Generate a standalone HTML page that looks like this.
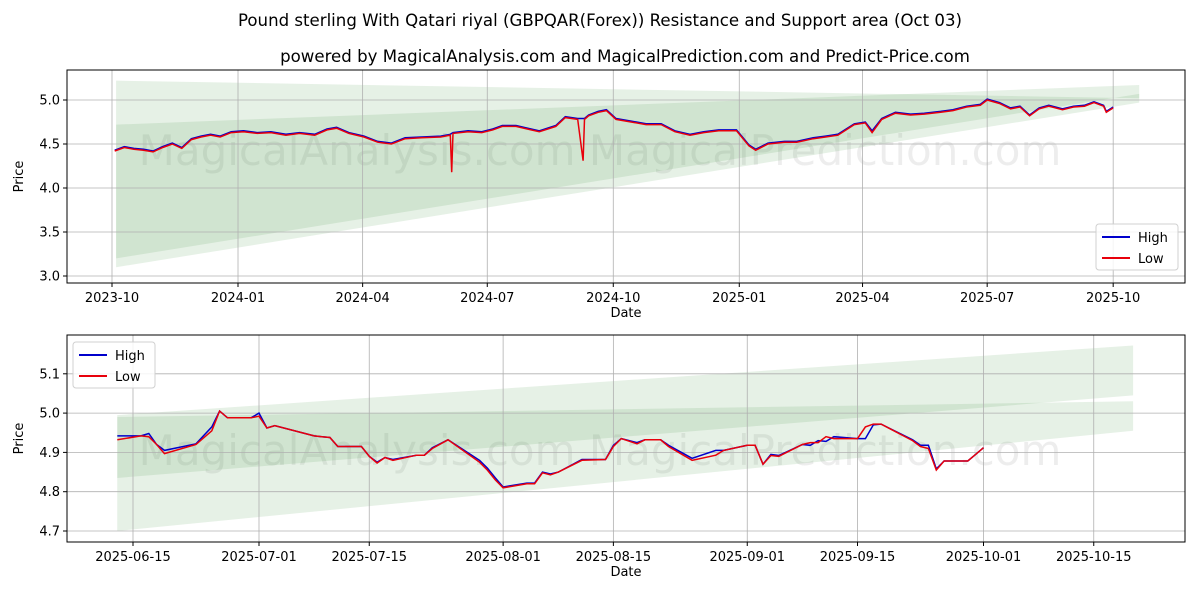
<!DOCTYPE html>
<html><head><meta charset="utf-8">
<style>
body{margin:0;background:#fff;}
svg{display:block;font-family:"DejaVu Sans","Liberation Sans",sans-serif;}
</style></head>
<body>
<svg id="c" width="1200" height="600" viewBox="0 0 1200 600">
<rect width="1200" height="600" fill="#fff"/>
<text x="600" y="26" text-anchor="middle" font-size="16.6">Pound sterling With Qatari riyal (GBPQAR(Forex)) Resistance and Support area (Oct 03)</text>
<text x="625" y="62" text-anchor="middle" font-size="16.6">powered by MagicalAnalysis.com and MagicalPrediction.com and Predict-Price.com</text>
<g id="top"></g>
<g id="bot"></g>
</svg>
<script>
// ---- top chart data ----
const topDates = ["2023-10-03","2023-10-10","2023-10-17","2023-10-24","2023-10-31","2023-11-07","2023-11-14","2023-11-21","2023-11-28","2023-12-05","2023-12-12","2023-12-19","2023-12-27","2024-01-05","2024-01-15","2024-01-25","2024-02-05","2024-02-15","2024-02-26","2024-03-06","2024-03-13","2024-03-22","2024-04-02","2024-04-12","2024-04-22","2024-05-02","2024-05-14","2024-05-28","2024-06-04","2024-06-05","2024-06-06","2024-06-17","2024-06-27","2024-07-05","2024-07-12","2024-07-22","2024-08-02","2024-08-08","2024-08-20","2024-08-27","2024-09-05","2024-09-09","2024-09-10","2024-09-13","2024-09-20","2024-09-26","2024-10-03","2024-10-14","2024-10-25","2024-11-05","2024-11-15","2024-11-26","2024-12-06","2024-12-17","2024-12-30","2025-01-08","2025-01-13","2025-01-22","2025-02-03","2025-02-12","2025-02-24","2025-03-05","2025-03-14","2025-03-26","2025-04-03","2025-04-08","2025-04-15","2025-04-25","2025-05-06","2025-05-16","2025-05-28","2025-06-06","2025-06-16","2025-06-26","2025-07-01","2025-07-10","2025-07-18","2025-07-25","2025-08-01","2025-08-08","2025-08-15","2025-08-25","2025-09-02","2025-09-10","2025-09-17","2025-09-24","2025-09-26","2025-10-01"];
const topLow = [4.42,4.46,4.44,4.43,4.41,4.46,4.50,4.45,4.55,4.58,4.60,4.58,4.63,4.64,4.62,4.63,4.60,4.62,4.60,4.66,4.68,4.62,4.58,4.52,4.50,4.56,4.57,4.58,4.60,4.18,4.62,4.64,4.63,4.66,4.70,4.70,4.66,4.64,4.70,4.80,4.78,4.31,4.78,4.82,4.86,4.88,4.78,4.75,4.72,4.72,4.64,4.60,4.63,4.65,4.65,4.48,4.43,4.50,4.52,4.52,4.56,4.58,4.60,4.72,4.74,4.63,4.78,4.85,4.83,4.84,4.86,4.88,4.92,4.94,5.00,4.96,4.90,4.92,4.82,4.90,4.93,4.89,4.92,4.93,4.97,4.93,4.86,4.91];
const topHigh = [4.43,4.47,4.45,4.44,4.42,4.47,4.51,4.46,4.56,4.59,4.61,4.59,4.64,4.65,4.63,4.64,4.61,4.63,4.61,4.67,4.69,4.63,4.59,4.53,4.51,4.57,4.58,4.59,4.61,4.62,4.63,4.65,4.64,4.67,4.71,4.71,4.67,4.65,4.71,4.81,4.79,4.79,4.79,4.83,4.87,4.89,4.79,4.76,4.73,4.73,4.65,4.61,4.64,4.66,4.66,4.49,4.44,4.51,4.53,4.53,4.57,4.59,4.61,4.73,4.75,4.65,4.79,4.86,4.84,4.85,4.87,4.89,4.93,4.95,5.01,4.97,4.91,4.93,4.83,4.91,4.94,4.90,4.93,4.94,4.98,4.94,4.87,4.92];
const topYTicks = [3.0,3.5,4.0,4.5,5.0];
const topXTicks = ["2023-10-01","2024-01-01","2024-04-01","2024-07-01","2024-10-01","2025-01-01","2025-04-01","2025-07-01","2025-10-01"];
const topXLabels = ["2023-10","2024-01","2024-04","2024-07","2024-10","2025-01","2025-04","2025-07","2025-10"];
// bands: [startDate, endDate, startTop, startBottom, endTop, endBottom]
const topBand1 = ["2023-10-04","2025-10-20",5.22,3.20,5.02,5.07];
const topBand2 = ["2023-10-04","2025-10-20",4.72,3.10,5.17,4.97];

// ---- bottom chart data ----
const botDates = ["2025-06-13","2025-06-16","2025-06-17","2025-06-18","2025-06-19","2025-06-23","2025-06-25","2025-06-26","2025-06-27","2025-06-30","2025-07-01","2025-07-02","2025-07-03","2025-07-08","2025-07-09","2025-07-10","2025-07-11","2025-07-14","2025-07-15","2025-07-16","2025-07-17","2025-07-18","2025-07-21","2025-07-22","2025-07-23","2025-07-25","2025-07-29","2025-07-30","2025-07-31","2025-08-01","2025-08-04","2025-08-05","2025-08-06","2025-08-07","2025-08-08","2025-08-11","2025-08-14","2025-08-15","2025-08-16","2025-08-18","2025-08-19","2025-08-21","2025-08-22","2025-08-25","2025-08-28","2025-08-29","2025-09-01","2025-09-02","2025-09-03","2025-09-04","2025-09-05","2025-09-08","2025-09-09","2025-09-10","2025-09-11","2025-09-12","2025-09-15","2025-09-16","2025-09-17","2025-09-18","2025-09-22","2025-09-23","2025-09-24","2025-09-25","2025-09-26","2025-09-27","2025-09-29","2025-09-30","2025-10-01"];
const botLow = [4.932,4.942,4.94,4.92,4.897,4.92,4.955,5.005,4.988,4.988,4.992,4.962,4.968,4.942,4.94,4.938,4.915,4.915,4.89,4.873,4.887,4.88,4.893,4.893,4.91,4.932,4.875,4.855,4.83,4.81,4.82,4.82,4.848,4.843,4.85,4.88,4.882,4.915,4.935,4.922,4.932,4.932,4.915,4.88,4.893,4.905,4.918,4.918,4.87,4.892,4.89,4.92,4.925,4.925,4.94,4.935,4.935,4.965,4.972,4.972,4.93,4.915,4.91,4.855,4.878,4.878,4.878,4.895,4.912];
const botHigh = [4.942,4.942,4.948,4.92,4.905,4.922,4.965,5.005,4.988,4.988,5.0,4.962,4.968,4.942,4.94,4.938,4.915,4.915,4.89,4.875,4.887,4.882,4.893,4.893,4.912,4.932,4.88,4.86,4.835,4.812,4.822,4.822,4.85,4.845,4.85,4.882,4.882,4.918,4.935,4.925,4.932,4.932,4.918,4.885,4.905,4.905,4.918,4.918,4.87,4.895,4.892,4.92,4.918,4.93,4.928,4.94,4.935,4.935,4.97,4.972,4.932,4.918,4.918,4.858,4.878,4.878,4.878,4.895,4.912];
const botYTicks = [4.7,4.8,4.9,5.0,5.1];
const botXTicks = ["2025-06-15","2025-07-01","2025-07-15","2025-08-01","2025-08-15","2025-09-01","2025-09-15","2025-10-01","2025-10-15"];
const botBand1 = ["2025-06-13","2025-10-20",4.995,4.835,5.172,5.045];
const botBand2 = ["2025-06-13","2025-10-20",4.99,4.70,5.03,4.955];

const NS="http://www.w3.org/2000/svg";
function mk(tag,attrs,parent){const e=document.createElementNS(NS,tag);for(const k in attrs)e.setAttribute(k,attrs[k]);parent.appendChild(e);return e;}
function day(s){return Date.parse(s+"T00:00:00Z")/86400000;}

function drawChart(g,cfg){
  const {x0,x1,y0,y1,dmin,dmax,vmin,vmax}=cfg;
  const X=d=>x0+(day(d)-dmin)/(dmax-dmin)*(x1-x0);
  const Y=v=>y1-(v-vmin)/(vmax-vmin)*(y1-y0);
  const wm=mk("text",{x:600,y:cfg.wmY,"text-anchor":"middle","font-size":42,fill:"#000","fill-opacity":0.07},g);
  wm.textContent="MagicalAnalysis.com  MagicalPrediction.com";
  
  
  [cfg.band1,cfg.band2].forEach((b,i)=>{
    const p=mk("polygon",{points:`${X(b[0])},${Y(b[2])} ${X(b[1])},${Y(b[4])} ${X(b[1])},${Y(b[5])} ${X(b[0])},${Y(b[3])}`,fill:"#2e8b2e","fill-opacity":0.12},g);
    
    
  });
  cfg.yTicks.forEach(v=>{
    const y=Y(v);
    const l=mk("line",{x1:x0,x2:x1,y1:y,y2:y,stroke:"#b0b0b0","stroke-width":0.8},g);
    
    
    mk("line",{x1:x0-4,x2:x0,y1:y,y2:y,stroke:"#000"},g);
    const t=mk("text",{x:x0-7,y:y+4.5,"text-anchor":"end","font-size":13},g);
    t.textContent=v.toFixed(1);
    
    
  });
  cfg.xTicks.forEach((d,i)=>{
    const x=X(d);
    const l=mk("line",{x1:x,x2:x,y1:y0,y2:y1,stroke:"#b0b0b0","stroke-width":0.8},g);
    
    
    mk("line",{x1:x,x2:x,y1:y1,y2:y1+4,stroke:"#000"},g);
    const t=mk("text",{x:x,y:y1+19,"text-anchor":"middle","font-size":13},g);
    t.textContent=cfg.xLabels[i];
    
    
  });
  const path=(vals)=>cfg.dates.map((d,i)=>(i?"L":"M")+X(d).toFixed(1)+","+Y(vals[i]).toFixed(1)).join("");
  const hi=mk("path",{d:path(cfg.high),fill:"none",stroke:"#0000cc","stroke-width":1.5},g);
  
  
  const lo=mk("path",{d:path(cfg.low),fill:"none",stroke:"#e8000b","stroke-width":1.5},g);
  
  
  const fr=mk("rect",{x:x0,y:y0,width:x1-x0,height:y1-y0,fill:"none",stroke:"#000","stroke-width":1},g);
  
  
  const xl=mk("text",{x:(x0+x1)/2,y:y1+34,"text-anchor":"middle","font-size":13},g);
  xl.textContent="Date";
  
  
  const yl=mk("text",{x:0,y:0,"text-anchor":"middle","font-size":13,transform:`translate(${x0-44},${(y0+y1)/2}) rotate(-90)`},g);
  yl.textContent="Price";
  
  
  const lg=mk("g",{},g);
  
  
  const lx=cfg.legX, ly=cfg.legY;
  mk("rect",{x:lx,y:ly,width:82,height:46,rx:3,fill:"#fff","fill-opacity":0.85,stroke:"#d0d0d0"},lg);
  [["High","#0000cc"],["Low","#e8000b"]].forEach((e,i)=>{
    const eg=mk("g",{},lg);
    
    
    mk("line",{x1:lx+6,x2:lx+34,y1:ly+13+i*21,y2:ly+13+i*21,stroke:e[1],"stroke-width":2},eg);
    const t=mk("text",{x:lx+42,y:ly+18+i*21,"font-size":13},eg);
    t.textContent=e[0];
  });
}

drawChart(document.getElementById("top"),{x0:67,x1:1185,y0:70,y1:283,dmin:day("2023-10-01")-(112-67)/1.3696,dmax:day("2023-10-01")+(1185-112)/1.3696,vmin:3.0-7/88,vmax:3.0+(276-70)/88,
  dates:topDates,low:topLow,high:topHigh,yTicks:topYTicks,xTicks:topXTicks,xLabels:topXLabels,band1:topBand1,band2:topBand2,wmY:165,legX:1096,legY:224});
drawChart(document.getElementById("bot"),{x0:67,x1:1185,y0:335,y1:542,dmin:day("2025-06-15")-(133-67)/7.875,dmax:day("2025-06-15")+(1185-133)/7.875,vmin:4.7-11/393,vmax:4.7+(531-335)/393,
  dates:botDates,low:botLow,high:botHigh,yTicks:botYTicks,xTicks:botXTicks,xLabels:botXTicks,band1:botBand1,band2:botBand2,wmY:465,legX:73,legY:342});
</script>
</body></html>
